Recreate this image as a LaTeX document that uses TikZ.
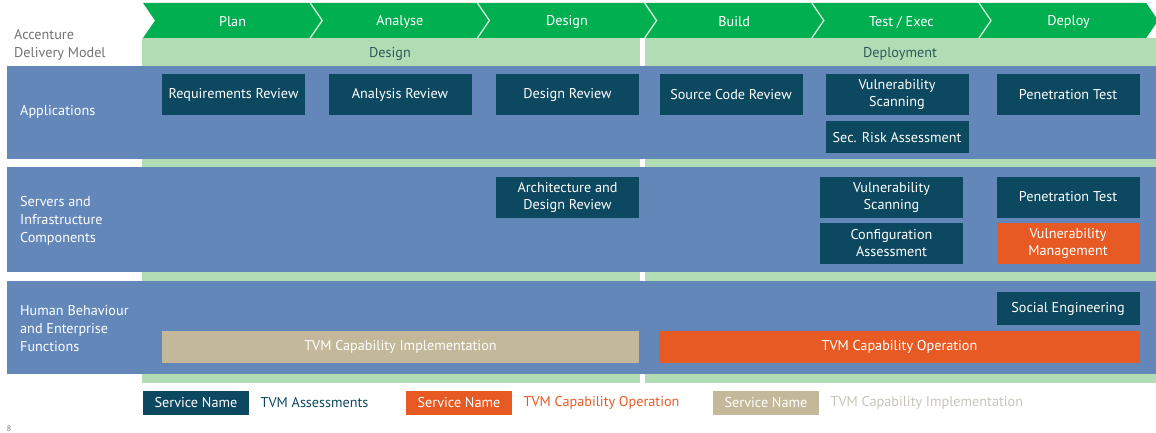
\documentclass[tikz,border=0pt]{standalone}
\usepackage{fontspec}
\setmainfont{PT Sans}
\usetikzlibrary{positioning}
\definecolor{chevgreen}{RGB}{0,176,80}
\definecolor{lgreen}{RGB}{178,220,180}
\definecolor{rowblue}{RGB}{99,135,185}
\definecolor{svcblue}{RGB}{12,72,96}
\definecolor{morange}{RGB}{232,90,36}
\definecolor{mtan}{RGB}{196,184,154}
\definecolor{htext}{RGB}{45,90,90}
\definecolor{gtext}{RGB}{115,115,115}
\definecolor{ltext}{RGB}{200,196,186}
\tikzset{
    txt/.style = {font = \fontsize{14.2}{17}\selectfont},
    svc/.style = {txt, fill = svcblue, text = white, inner sep = 0, align = center,
                  minimum width = 143, minimum height = 41},
    opbar/.style = {svc, fill = morange, minimum height = 32},
    implbar/.style = {svc, fill = mtan, minimum height = 32},
    phase/.style = {txt, text = white},
    rowlab/.style = {font = \fontsize{14.2}{18}\selectfont, text = white, align = left, anchor = west, inner sep = 0},
    legbox/.style = {svc, minimum width = 106, minimum height = 24},
    sepline/.style = {draw = lgreen!50!white, line width = 1.3},
}

\begin{document}
\begin{tikzpicture}[x = 1pt, y = -1pt]
    \useasboundingbox (0,0) rectangle (1156,433);
    \clip (0,0) rectangle (1156,433);

    % phase band
    \fill[lgreen] (142,38) rectangle (640,383);
    \fill[lgreen] (645,38) rectangle (1156,383);
    \foreach \lab [count = \i from 0] in {Plan, Analyse, Design, Build, {Test / Exec}, Deploy} {
        \pgfmathsetmacro{\xa}{143 + 167.2*\i}
        \pgfmathsetmacro{\xb}{\xa + 167.2}
        \fill[chevgreen] (\xa,3) -- (\xb,3) -- (\xb+12,20.5) -- (\xb,38) -- (\xa,38) -- (\xa+12,20.5) -- cycle;
        \node[phase] (phase\i) at (\xa+89.6,22) {\lab};
    }
    \foreach \i in {1,...,5} {
        \pgfmathsetmacro{\xb}{143 + 167.2*\i}
        \draw[sepline] (\xb,3) -- (\xb+12,20.5) -- (\xb,38);
    }
    \node[txt, text = htext] (hdesign) at (390,53.5) {Design};
    \node[txt, text = htext] (hdeploy) at (900,53.5) {Deployment};
    \node[rowlab, text = gtext] (adm) at (14,45) {Accenture\\Delivery Model};

    % rows
    \fill[rowblue] (7,66) rectangle (1156,159);
    \fill[rowblue] (7,167) rectangle (1156,272);
    \fill[rowblue] (7,281) rectangle (1156,374);
    \node[rowlab] (apps) at (20,112) {Applications};
    \node[rowlab] (servers) at (20,221) {Servers and\\Infrastructure\\Components};
    \node[rowlab] (human) at (20,329) {Human Behaviour\\and Enterprise\\Functions};

    % applications
    \node[svc] (reqrev) at (233.5,94.5) {Requirements Review};
    \node[svc] (anarev) at (400,94.5) {Analysis Review};
    \node[svc] (desrev) at (567.5,94.5) {Design Review};
    \node[svc] (srcrev) at (731,94.5) {Source Code Review};
    \node[svc] (vulnscan) at (897,94.5) {Vulnerability\\Scanning};
    \node[svc, minimum height = 32, below = 6pt of vulnscan] (riskassess) {Sec. Risk Assessment};
    \node[svc] (pentest) at (1068,94.5) {Penetration Test};

    % servers and infrastructure
    \node[svc] (archrev) at (567.5,197) {Architecture and\\Design Review};
    \node[svc] (vulnscanb) at (891.5,197) {Vulnerability\\Scanning};
    \node[svc, below = 5pt of vulnscanb] (confassess) {Configuration\\Assessment};
    \node[svc] (pentestb) at (1068,197) {Penetration Test};
    \node[svc, fill = morange, below = 5pt of pentestb] (vulnmgmt) {Vulnerability\\Management};

    % human behaviour
    \node[svc, minimum height = 33] (socialeng) at (1068,308.5) {Social Engineering};
    \node[implbar, minimum width = 477] (tvmimpl) at (400.5,347) {TVM Capability Implementation};
    \node[opbar, minimum width = 481] (tvmop) at (899.5,347) {TVM Capability Operation};

    % legend
    \node[legbox] (legsvc) at (196,403) {Service Name};
    \node[txt, text = svcblue, right = 8pt of legsvc] (legsvctxt) {TVM Assessments};
    \node[legbox, fill = morange] (legop) at (459,403) {Service Name};
    \node[txt, text = morange, right = 8pt of legop] (legoptxt) {TVM Capability Operation};
    \node[legbox, fill = mtan] (legimpl) at (766,403) {Service Name};
    \node[txt, text = ltext, right = 8pt of legimpl] (legimpltxt) {TVM Capability Implementation};

    \node[font = \fontsize{8}{9}\selectfont, text = gtext, anchor = south, inner sep = 1pt] (pagenum) at (9,433) {8};
\end{tikzpicture}
\end{document}
